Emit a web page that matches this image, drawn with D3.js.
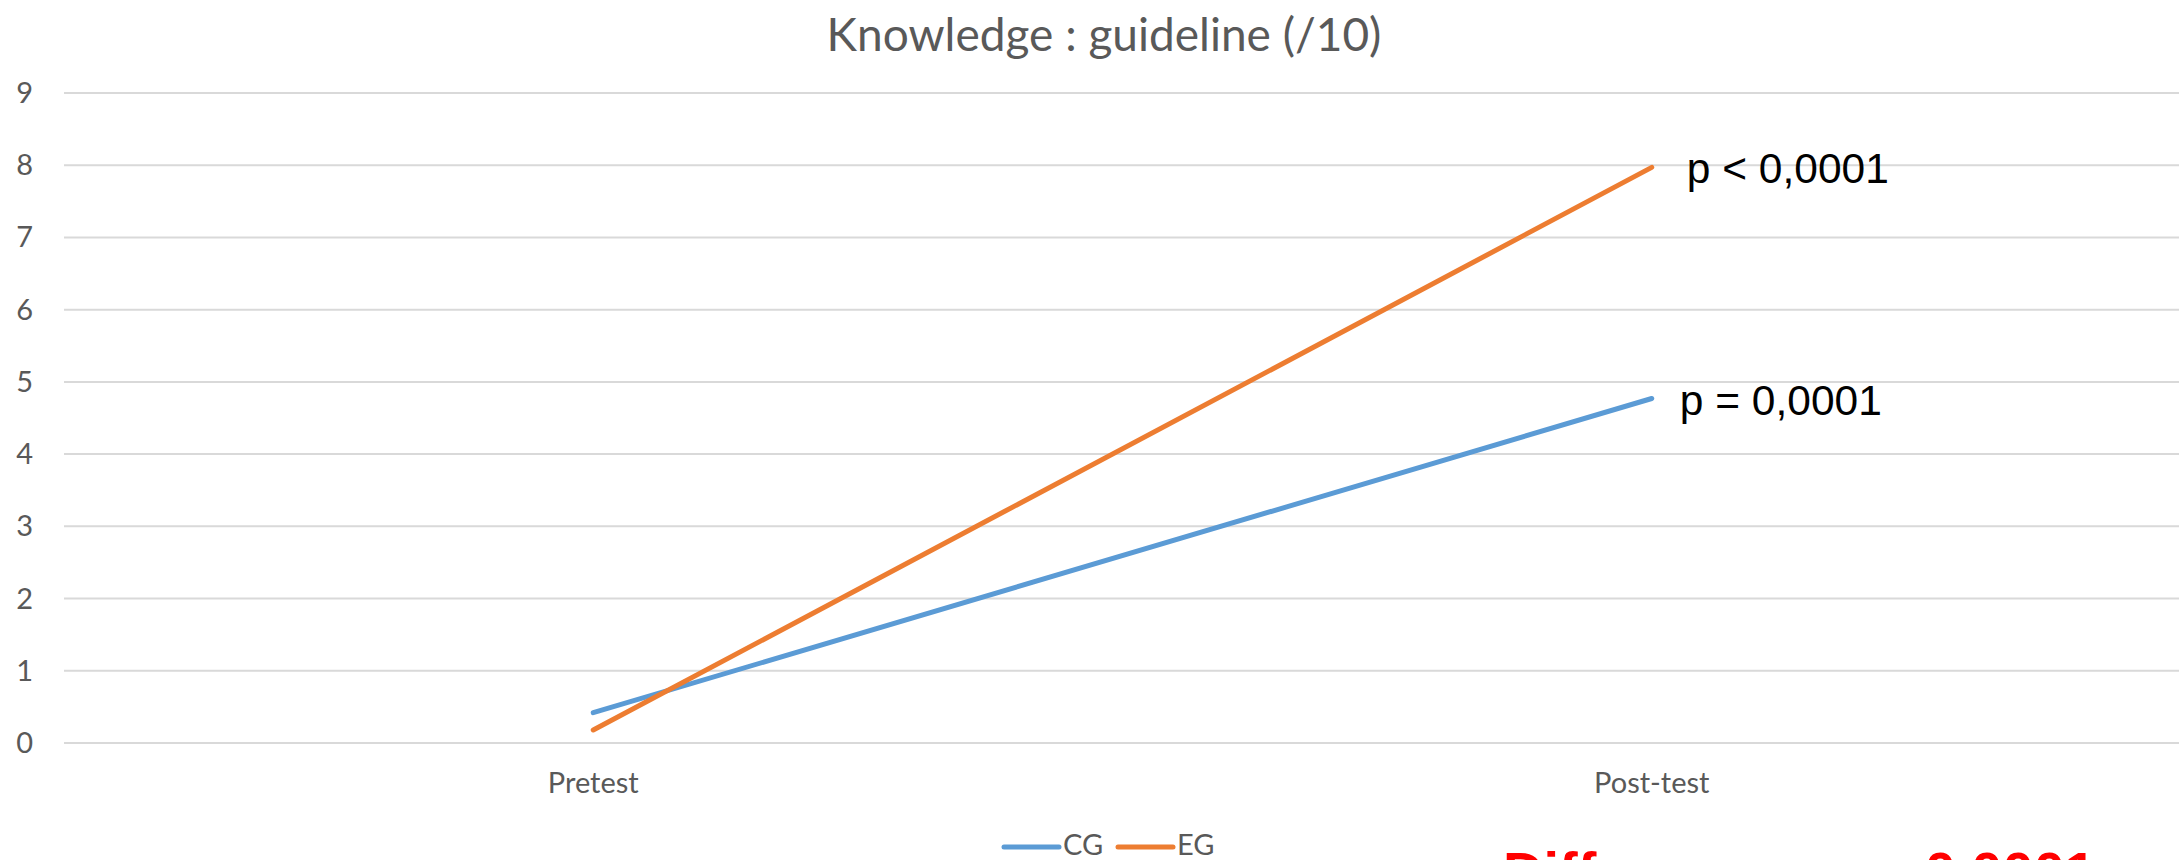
<!DOCTYPE html>
<html lang="en">
<head>
    <meta charset="UTF-8">
    <title>Knowledge : guideline (/10)</title>
    <script src="https://d3js.org/d3.v7.min.js"></script>
    <style>
        body { margin: 0; background: white; overflow: hidden; }
        svg { display: block; }
        .grid line { stroke: #d9d9d9; stroke-width: 2px; }
        .axis-text { font-family: Lato, "Open Sans", sans-serif; font-size: 29px; fill: #595959; }
        .series { fill: none; stroke-width: 5px; stroke-linecap: round; }
        .pval { font-family: "Liberation Sans", Arial, sans-serif; font-size: 42.5px; fill: black; }
    </style>
</head>
<body>
    <svg width="2183" height="860"></svg>

    <script>
        // data
        const categories = ["Pretest", "Post-test"];
        const cgValues = [0.42, 4.77];
        const egValues = [0.18, 7.97];
        const seriesNames = ["CG", "EG"];
        const seriesColors = ["#5b9bd5", "#ed7d31"];
        const yTicks = [0, 1, 2, 3, 4, 5, 6, 7, 8, 9];
        const pLabels = ["p = 0,0001", "p < 0,0001"];
        const diffLabel = "Difference : p = 0,0001";

        const svg = d3.select("svg");

        let x = d3.scalePoint().domain(categories).range([64, 2181]).padding(0.5);
        let y = d3.scaleLinear().domain([0, 9]).range([743, 93]);

        // title
        svg.append("text")
            .attr("x", 1104).attr("y", 51)
            .attr("text-anchor", "middle")
            .style("font-family", "Lato, 'Open Sans', sans-serif")
            .style("font-size", "46px")
            .style("fill", "#595959")
            .text("Knowledge : guideline (/10)");

        // gridlines
        svg.append("g").attr("class", "grid")
            .selectAll("line").data(yTicks).enter().append("line")
            .attr("x1", 64).attr("x2", 2179)
            .attr("y1", d => y(d)).attr("y2", d => y(d));

        // y axis labels
        svg.append("g").selectAll("text").data(yTicks).enter().append("text")
            .attr("class", "axis-text")
            .attr("x", 33).attr("y", d => y(d) + 10)
            .attr("text-anchor", "end")
            .text(d => d);

        // x axis labels
        svg.append("g").selectAll("text").data(categories).enter().append("text")
            .attr("class", "axis-text")
            .attr("x", d => x(d)).attr("y", 793)
            .attr("text-anchor", "middle")
            .text(d => d);

        // lines
        let series = [cgValues, egValues];
        let line = d3.line().x((d, i) => x(categories[i])).y(d => y(d));
        svg.append("g").selectAll("path").data(series).enter().append("path")
            .attr("class", "series")
            .attr("stroke", (d, i) => seriesColors[i])
            .attr("d", d => line(d));

        // p-value annotations next to the last points
        svg.append("g").selectAll("text").data(series).enter().append("text")
            .attr("class", "pval")
            .attr("x", (d, i) => x(categories[1]) + (i === 0 ? 28 : 35))
            .attr("y", d => y(d[1]) + 16)
            .text((d, i) => pLabels[i]);

        // legend
        let legend = svg.append("g").selectAll("g").data(seriesNames).enter().append("g")
            .attr("transform", (d, i) => `translate(${1004 + i * 114},847)`);
        legend.append("line")
            .attr("x1", 0).attr("x2", 55)
            .attr("stroke", (d, i) => seriesColors[i])
            .attr("stroke-width", 5).attr("stroke-linecap", "round");
        legend.append("text")
            .attr("class", "axis-text")
            .attr("x", 59).attr("y", 8)
            .text(d => d);

        // red note, cut by the bottom edge as in the original
        svg.append("text")
            .attr("x", 1503).attr("y", 891)
            .style("font-family", "'Liberation Sans', Arial, sans-serif")
            .style("font-size", "56px")
            .style("font-weight", "bold")
            .style("fill", "red")
            .text(diffLabel);
    </script>
</body>
</html>
